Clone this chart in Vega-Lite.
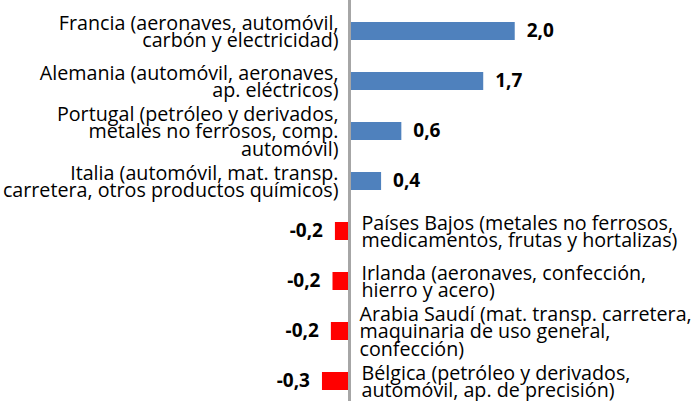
{
  "$schema": "https://vega.github.io/schema/vega-lite/v6.json",
  "width": 699,
  "height": 401,
  "padding": 0,
  "autosize": {"type": "none"},
  "config": {
    "view": {"stroke": null},
    "font": "Open Sans",
    "locale": {"number": {"decimal": ",", "thousands": ".", "grouping": [3], "currency": ["", " €"], "minus": "-"}}
  },
  "data": {
    "values": [
      {"pais": "Francia", "etiqueta": "Francia (aeronaves, automóvil,\ncarbón y electricidad)", "valor": 2.04},
      {"pais": "Alemania", "etiqueta": "Alemania (automóvil, aeronaves,\nap. eléctricos)", "valor": 1.651},
      {"pais": "Portugal", "etiqueta": "Portugal (petróleo y derivados,\nmetales no ferrosos, comp.\nautomóvil)", "valor": 0.64},
      {"pais": "Italia", "etiqueta": "Italia (automóvil, mat. transp.\ncarretera, otros productos químicos)", "valor": 0.39},
      {"pais": "Países Bajos", "etiqueta": "Países Bajos (metales no ferrosos,\nmedicamentos, frutas y hortalizas)", "valor": -0.18},
      {"pais": "Irlanda", "etiqueta": "Irlanda (aeronaves, confección,\nhierro y acero)", "valor": -0.21},
      {"pais": "Arabia Saudí", "etiqueta": "Arabia Saudí (mat. transp. carretera,\nmaquinaria de uso general,\nconfección)", "valor": -0.23},
      {"pais": "Bélgica", "etiqueta": "Bélgica (petróleo y derivados,\nautomóvil, ap. de precisión)", "valor": -0.34}
    ]
  },
  "encoding": {
    "y": {"field": "pais", "type": "nominal", "sort": null, "axis": null,
          "scale": {"paddingInner": 0.64, "paddingOuter": 0.33, "align": 0.667}}
  },
  "layer": [
    {
      "mark": {"type": "bar"},
      "encoding": {
        "x": {"field": "valor", "type": "quantitative", "axis": null, "scale": {"domain": [-4.315, 4.315], "nice": false, "zero": false}},
        "color": {"condition": {"test": "datum.valor >= 0", "value": "#4F81BD"}, "value": "#FF0000"}
      }
    },
    {
      "mark": {"type": "rule", "color": "#A6A6A6", "strokeWidth": 2.5},
      "encoding": {"x": {"datum": 0}, "y": null}
    },
    {
      "transform": [{"filter": "datum.valor >= 0 && indexof(datum.etiqueta, '\\n') === lastindexof(datum.etiqueta, '\\n')"}],
      "mark": {"type": "text", "align": "right", "baseline": "alphabetic", "dx": -11, "dy": -1.5, "fontSize": 19.7, "lineHeight": 17.5, "lineBreak": "\n", "color": "#000000"},
      "encoding": {"x": {"datum": 0}, "text": {"field": "etiqueta", "type": "nominal"}}
    },
    {
      "transform": [{"filter": "datum.valor >= 0 && indexof(datum.etiqueta, '\\n') !== lastindexof(datum.etiqueta, '\\n')"}],
      "mark": {"type": "text", "align": "right", "baseline": "alphabetic", "dx": -11, "dy": -10.5, "fontSize": 19.7, "lineHeight": 17.5, "lineBreak": "\n", "color": "#000000"},
      "encoding": {"x": {"datum": 0}, "text": {"field": "etiqueta", "type": "nominal"}}
    },
    {
      "transform": [{"filter": "datum.valor < 0 && indexof(datum.etiqueta, '\\n') === lastindexof(datum.etiqueta, '\\n')"}],
      "mark": {"type": "text", "align": "left", "baseline": "alphabetic", "dx": 12, "dy": -1.5, "fontSize": 19.7, "lineHeight": 17.5, "lineBreak": "\n", "color": "#000000"},
      "encoding": {"x": {"datum": 0}, "text": {"field": "etiqueta", "type": "nominal"}}
    },
    {
      "transform": [{"filter": "datum.valor < 0 && indexof(datum.etiqueta, '\\n') !== lastindexof(datum.etiqueta, '\\n')"}],
      "mark": {"type": "text", "align": "left", "baseline": "alphabetic", "dx": 10, "dy": -10.5, "fontSize": 19.7, "lineHeight": 17.5, "lineBreak": "\n", "color": "#000000"},
      "encoding": {"x": {"datum": 0}, "text": {"field": "etiqueta", "type": "nominal"}}
    },
    {
      "transform": [{"filter": "datum.valor >= 0"}],
      "mark": {"type": "text", "align": "left", "baseline": "middle", "dx": 12, "fontSize": 19, "fontWeight": "bold", "color": "#000000"},
      "encoding": {"x": {"field": "valor", "type": "quantitative"}, "text": {"field": "valor", "type": "quantitative", "format": ".1f"}}
    },
    {
      "transform": [{"filter": "datum.valor < 0"}],
      "mark": {"type": "text", "align": "right", "baseline": "middle", "dx": -12, "fontSize": 19, "fontWeight": "bold", "color": "#000000"},
      "encoding": {"x": {"field": "valor", "type": "quantitative"}, "text": {"field": "valor", "type": "quantitative", "format": ".1f"}}
    }
  ]
}
